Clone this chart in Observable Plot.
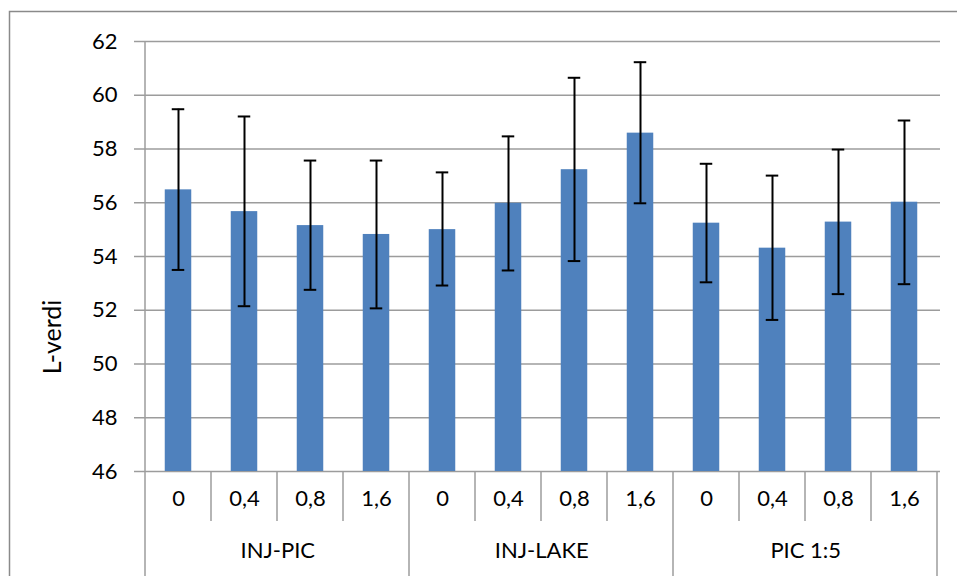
<!DOCTYPE html>
<html><head><meta charset="utf-8">
<script src="https://cdn.jsdelivr.net/npm/d3@7"></script>
<script src="https://cdn.jsdelivr.net/npm/@observablehq/plot@0.6"></script>
<style>body{margin:0;background:#fff}</style>
</head><body><div id="chart"></div>
<script>
const groups = ["INJ-PIC", "INJ-LAKE", "PIC 1:5"];
const doses = ["0", "0,4", "0,8", "1,6"];
const means = [56.48, 55.67, 55.15, 54.82, 55.00, 55.98, 57.23, 58.59, 55.24, 54.31, 55.28, 56.02];
const lows  = [53.50, 52.15, 52.76, 52.07, 52.92, 53.48, 53.83, 55.98, 53.04, 51.64, 52.60, 52.97];
const highs = [59.48, 59.21, 57.57, 57.57, 57.13, 58.47, 60.65, 61.23, 57.45, 57.01, 57.98, 59.06];
const yTicks = [46, 48, 50, 52, 54, 56, 58, 60, 62];
const yLabel = "L-verdi";

const W = 957, H = 576;
const mL = 142, mR = 17, mT = 41, mB = 105;
const FONT = "Lato, 'Open Sans', sans-serif";
const GRAY = "#9c9c9c";
const FS = 22;

const data = means.map((m, i) => ({
  key: groups[Math.floor(i / 4)] + "|" + doses[i % 4],
  group: groups[Math.floor(i / 4)],
  dose: doses[i % 4],
  mean: m, low: lows[i], high: highs[i]
}));
const keys = data.map(d => d.key);
const bw = (W - mL - mR) / keys.length;
const groupData = groups.map((g, gi) => ({group: g, key: keys[gi * 4 + 1]}));

const chart = Plot.plot({
  width: W, height: H,
  marginLeft: mL, marginRight: mR, marginTop: mT, marginBottom: mB,
  style: {fontFamily: FONT, fontSize: FS + "px", background: "#fff", color: "#000", overflow: "visible"},
  x: {type: "band", domain: keys, paddingInner: 0, paddingOuter: 0, axis: null},
  y: {domain: [yTicks[0], yTicks[yTicks.length - 1]], axis: null},
  marks: [
    Plot.gridY(yTicks, {stroke: GRAY, strokeOpacity: 1, strokeWidth: 1.5}),
    Plot.axisY(yTicks, {tickSize: 8, tickPadding: 17, stroke: GRAY, strokeWidth: 1.5, label: null, fontSize: FS, tickFormat: d => d}),
    Plot.barY(data, {x: "key", y1: yTicks[0], y2: "mean", fill: "#4F81BD", insetLeft: 19.75, insetRight: 19.75}),
    Plot.ruleX(data, {x: "key", y1: "low", y2: "high", stroke: "#000", strokeWidth: 2}),
    Plot.tickY(data, {x: "key", y: "low", stroke: "#000", strokeWidth: 2, insetLeft: 26.75, insetRight: 26.75}),
    Plot.tickY(data, {x: "key", y: "high", stroke: "#000", strokeWidth: 2, insetLeft: 26.75, insetRight: 26.75}),
    Plot.text(data, {x: "key", text: "dose", frameAnchor: "bottom", dy: 34, fontSize: FS, fill: "#000"}),
    Plot.text(groupData, {x: "key", text: "group", frameAnchor: "bottom", dx: bw / 2, dy: 86, fontSize: FS, fill: "#000"})
  ]
});

const svg = d3.select(chart);
const X = chart.scale("x");
const Y = chart.scale("y");
const y0 = Y.apply(yTicks[0]);
const edges = keys.map(k => X.apply(k)).concat([X.apply(keys[keys.length - 1]) + X.bandwidth]);
const deco = svg.append("g").attr("stroke", GRAY).attr("stroke-width", 1.5).attr("fill", "none");
edges.forEach((x, i) => {
  const isGroup = i % 4 === 0;
  deco.append("line")
    .attr("x1", x).attr("x2", x)
    .attr("y1", i === 0 ? Y.apply(yTicks[yTicks.length - 1]) : y0)
    .attr("y2", isGroup ? H + 10 : y0 + 50);
});
// outer chart border
deco.append("rect").attr("x", 9.5).attr("y", 11.5).attr("width", W + 20).attr("height", H + 20).attr("stroke", "#8a8a8a");
// y axis title
svg.append("text")
  .attr("transform", `translate(61,337) rotate(-90)`)
  .attr("text-anchor", "middle")
  .attr("font-family", FONT).attr("font-size", 25).attr("fill", "#000")
  .text(yLabel);

document.getElementById("chart").appendChild(chart);
</script>
</body></html>
